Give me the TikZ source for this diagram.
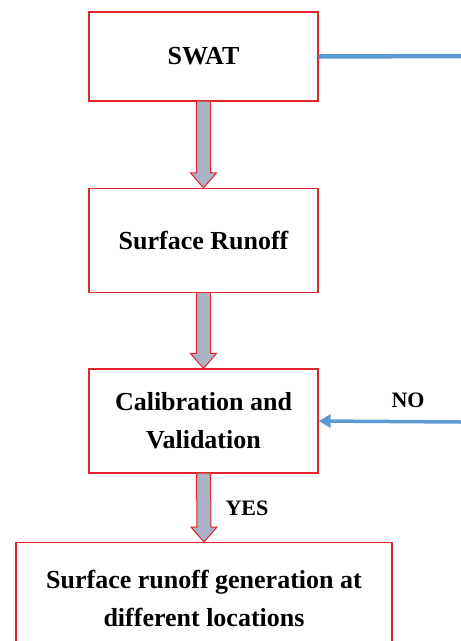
\documentclass[tikz,border=0pt]{standalone}
\usepackage{fontspec}
\setmainfont{Liberation Serif}
\usetikzlibrary{shapes.arrows,arrows.meta,calc}
\definecolor{boxred}{HTML}{E0262A}
\definecolor{arrfill}{HTML}{AAB3C5}
\definecolor{lineblue}{HTML}{5B9BD5}
\begin{document}
\begin{tikzpicture}[x=1pt,y=-1pt,
  box/.style={draw=boxred,line width=1.2pt,fill=white,inner sep=0pt,
    font=\fontsize{26}{38}\selectfont\bfseries,align=center},
  blockarrow/.style={draw=boxred,fill=arrfill,line width=1pt,line join=miter},
  lbl/.style={font=\fontsize{22}{26}\selectfont\bfseries}]
\useasboundingbox (0,0) rectangle (461,641);
\begin{scope}
\clip (0,0) rectangle (461,641);
\node[box,minimum width=229pt,minimum height=89pt] (swat) at (203.5,56.5) {SWAT};
\node[box,minimum width=229pt,minimum height=104pt] (runoff) at (203.5,240.5) {Surface Runoff};
\node[box,minimum width=229pt,minimum height=104pt] (calib) at (203.5,421) {Calibration and\\Validation};
\node[box,minimum width=376pt,minimum height=118pt,anchor=north] (gen) at (204,542) {};
\node[font=\fontsize{26}{38}\selectfont\bfseries,align=center] (gentext) at (204,598) {Surface runoff generation at\\different locations};
\coordinate (swatright) at (461,56);
\coordinate (noright) at (461,422);
\draw[lineblue,line width=4.5pt] (swat.east) -- (swatright);
\draw[lineblue,line width=3.5pt,-{Triangle[length=12pt,width=13pt]}] (noright) -- (calib.east);
\foreach \a/\b in {swat/runoff,runoff/calib,calib/gen}{
  \path (\a.south) coordinate (s) (\b.north) coordinate (t);
  \draw[blockarrow] ($(s)+(-7,0)$) -- ($(t)+(-7,-15)$) -- ($(t)+(-13,-15)$) -- (t) -- ($(t)+(13,-15)$) -- ($(t)+(7,-15)$) -- ($(s)+(7,0)$);
}
\node[lbl] (no) at (408,400) {NO};
\node[lbl] (yes) at (247,508) {YES};
\end{scope}
\end{tikzpicture}
\end{document}
